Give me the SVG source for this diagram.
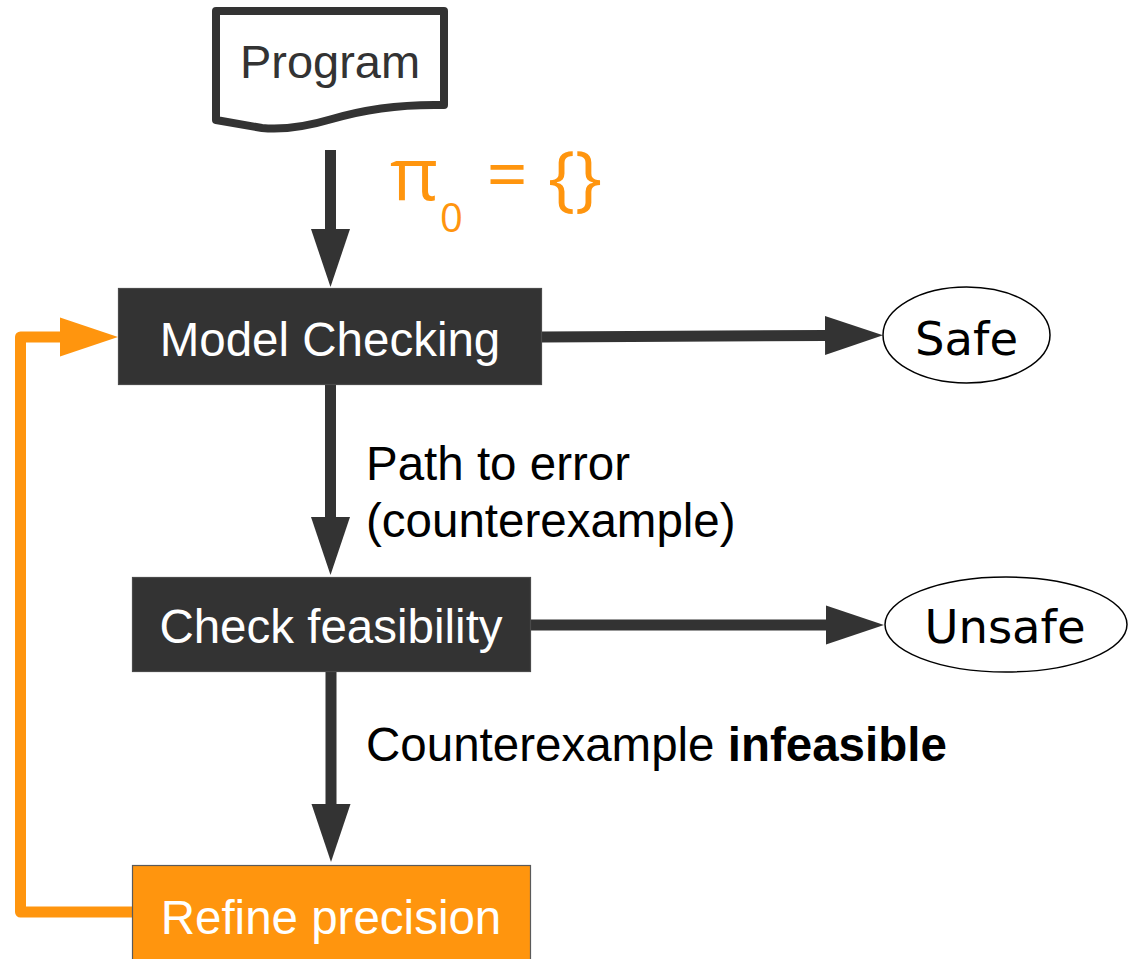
<svg xmlns="http://www.w3.org/2000/svg" width="1128" height="959" viewBox="0 0 1128 959">
  <style>
    .box { fill: #333333; stroke: #4a4a4a; stroke-width: 1.2; }
    .box-orange { fill: #ff950e; stroke: #5a5a5a; stroke-width: 1.2; }
    .box-text { font-family: "Liberation Sans", Arial, sans-serif; font-size: 47.5px; fill: #ffffff; text-anchor: middle; }
    .label { font-family: "Liberation Sans", Arial, sans-serif; font-size: 47.5px; fill: #000000; }
    .term { fill: #ffffff; stroke: #000000; stroke-width: 1.5; }
    .term-text { font-family: "DejaVu Sans", sans-serif; font-size: 46.5px; fill: #000000; text-anchor: middle; }
    .flow { fill: none; stroke: #333333; stroke-width: 11; }
    .loop { fill: none; stroke: #ff950e; stroke-width: 11; stroke-linejoin: round; }
    .prec { font-family: "Open Sans", sans-serif; fill: #ff950e; }
  </style>
  <defs>
    <marker id="head" markerUnits="userSpaceOnUse" viewBox="0 0 58 40" refX="0" refY="20" markerWidth="58" markerHeight="40" orient="auto">
      <path d="M0,0.5 L58,20 L0,39.5 Z" fill="#333333"/>
    </marker>
    <marker id="head-orange" markerUnits="userSpaceOnUse" viewBox="0 0 58 40" refX="0" refY="20" markerWidth="58" markerHeight="40" orient="auto">
      <path d="M0,0.5 L58,20 L0,39.5 Z" fill="#ff950e"/>
    </marker>
  </defs>

  <rect width="1128" height="959" fill="#ffffff"/>

  <!-- connectors -->
  <g id="connectors">
    <path class="flow" d="M330.5,150 V229" marker-end="url(#head)"/>
    <path class="flow" d="M330.5,385 V517" marker-end="url(#head)"/>
    <path class="flow" d="M331,672 V804" marker-end="url(#head)"/>
    <path class="flow" d="M542,337 L825,335.5" marker-end="url(#head)"/>
    <path class="flow" d="M531,625 L826,625" marker-end="url(#head)"/>
    <path class="loop" d="M132,912 H20.5 V337 H60" marker-end="url(#head-orange)"/>
  </g>

  <!-- input document -->
  <g id="program">
    <path d="M216,11 H444 V105 C400,104 362,110 332,119 C305,127 282,130 262,128 L216,120 Z" fill="#ffffff" stroke="#333333" stroke-width="8" stroke-linejoin="round"/>
    <text x="330" y="78" font-family="Liberation Sans, Arial, sans-serif" font-size="47" fill="#333333" text-anchor="middle">Program</text>
  </g>

  <!-- initial precision -->
  <g id="initial-precision">
    <text class="prec" x="390" y="200" font-size="74">π</text>
    <text class="prec" x="440" y="232" font-size="40">0</text>
    <text class="prec" x="507" y="200" font-size="72" text-anchor="middle">=</text>
    <text class="prec" x="575" y="203" font-size="72" text-anchor="middle">{}</text>
  </g>

  <g id="model-checking">
    <rect class="box" x="118.5" y="288.5" width="423" height="96"/>
    <text class="box-text" x="330" y="356">Model Checking</text>
  </g>

  <g id="safe">
    <ellipse class="term" cx="966.5" cy="335" rx="83.5" ry="48"/>
    <text class="term-text" x="966.5" y="355">Safe</text>
  </g>

  <g id="path-label">
    <text class="label" x="366" y="480">Path to error</text>
    <text class="label" x="366" y="537">(counterexample)</text>
  </g>

  <g id="check-feasibility">
    <rect class="box" x="132.5" y="577.5" width="398" height="94"/>
    <text class="box-text" x="331" y="643">Check feasibility</text>
  </g>

  <g id="unsafe">
    <ellipse class="term" cx="1006" cy="624.5" rx="121" ry="47.5"/>
    <text class="term-text" x="1005" y="643">Unsafe</text>
  </g>

  <g id="infeasible-label">
    <text class="label" x="366" y="761" font-size="48.3">Counterexample <tspan font-weight="bold">infeasible</tspan></text>
  </g>

  <g id="refine-precision">
    <rect class="box-orange" x="132.5" y="865.5" width="398" height="100"/>
    <text class="box-text" x="331" y="934">Refine precision</text>
  </g>
</svg>
